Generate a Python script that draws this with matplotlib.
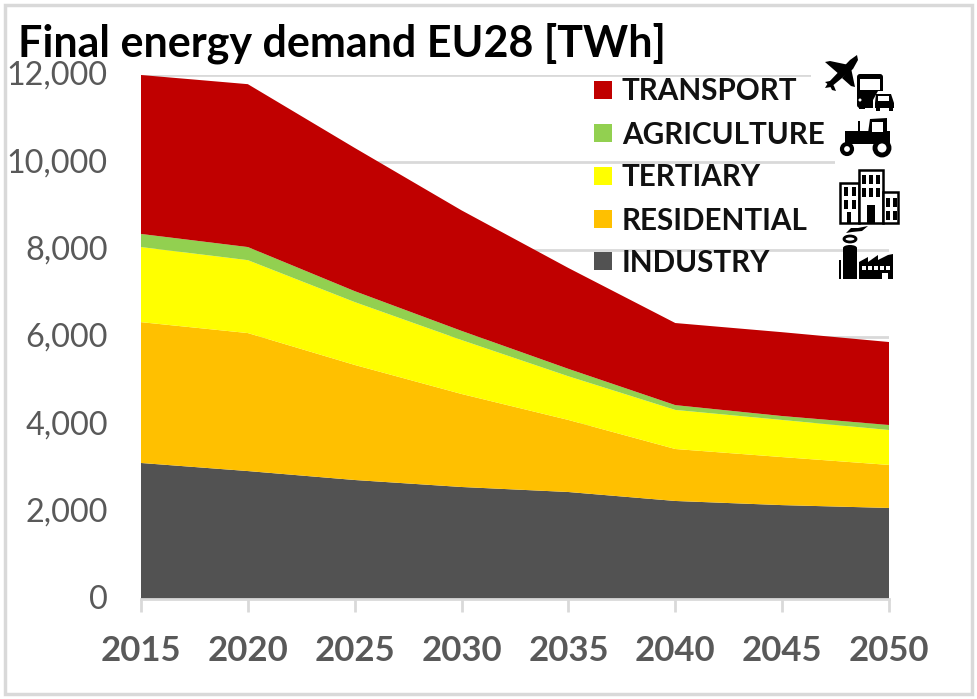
import matplotlib
matplotlib.use("Agg")
import matplotlib.pyplot as plt
from matplotlib.patches import Rectangle, Polygon, Circle, Ellipse, FancyBboxPatch
from matplotlib.ticker import FuncFormatter
from matplotlib.transforms import ScaledTranslation

plt.rcParams["font.family"] = ["Lato", "DejaVu Sans"]

W, H = 977, 699

years = [2015, 2020, 2025, 2030, 2035, 2040, 2045, 2050]
tick_values = [0, 2000, 4000, 6000, 8000, 10000, 12000]

# band sizes in TWh, bottom to top
industry = [3115, 2930, 2725, 2565, 2450, 2245, 2150, 2085]
residential = [3225, 3160, 2635, 2130, 1650, 1190, 1100, 985]
tertiary = [1720, 1670, 1440, 1235, 1000, 895, 850, 800]
agriculture = [300, 300, 250, 210, 170, 110, 90, 115]
transport = [3640, 3730, 3280, 2760, 2310, 1880, 1920, 1900]

names = ["TRANSPORT", "AGRICULTURE", "TERTIARY", "RESIDENTIAL", "INDUSTRY"]
colors = ["#C00000", "#92D050", "#FFFF00", "#FFC000", "#525252"]

GRID = "#D9D9D9"
TEXT = "#595959"

fig = plt.figure(figsize=(W / 100, H / 100), dpi=100)

# chart axes placed by pixels
ax = fig.add_axes([141 / W, 1 - 599 / H, (889 - 141) / W, (599 - 75) / H])
ax.stackplot(years, industry, residential, tertiary, agriculture, transport,
             colors=colors[::-1], linewidth=0, zorder=2)
ax.set_xlim(2015, 2050)
ax.set_ylim(0, 12000)
ax.set_xticks(years)
ax.set_yticks(tick_values)
ax.yaxis.set_major_formatter(FuncFormatter(lambda v, _: f"{int(v):,}"))
ax.grid(axis="y", color=GRID, linewidth=2, zorder=1)
ax.set_axisbelow(True)
for side in ["top", "right", "left"]:
    ax.spines[side].set_visible(False)
ax.spines["bottom"].set_color(GRID)
ax.spines["bottom"].set_linewidth(2)
ax.tick_params(axis="y", length=0, pad=24, labelsize=23.3, labelcolor=TEXT)
ax.tick_params(axis="x", length=9, width=2, color=GRID, pad=17, labelsize=25,
               labelcolor=TEXT)
for lab in ax.get_xticklabels():
    lab.set_fontweight("bold")
up = ScaledTranslation(0, 2 / 100, fig.dpi_scale_trans)
for lab in ax.get_yticklabels():
    lab.set_transform(lab.get_transform() + up)

# overlay in image pixels for frame, title, legend and icons
ov = fig.add_axes([0, 0, 1, 1], facecolor="none")
ov.set_xlim(0, W)
ov.set_ylim(H, 0)
ov.axis("off")

ov.add_patch(Rectangle((5, 5), 967, 689, fill=False, ec=GRID, lw=2.5))
ov.text(18, 43, "Final energy demand EU28 [TWh]", fontsize=31, fontweight="bold",
        color="black", va="center", ha="left")

# legend
legend_y = [90, 133, 176, 219, 261]
for name, color, y in zip(names, colors, legend_y):
    ov.add_patch(Rectangle((594, y - 9), 18, 18, fc=color, ec="none"))
    ov.text(622, y + 1.5, name, fontsize=21.3, fontweight="bold", color="#111111",
            va="center", ha="left")

# white backing of the pasted icons
ov.add_patch(Rectangle((811, 45), 58, 57, fc="white", ec="none"))
ov.add_patch(Rectangle((835, 103), 62, 62, fc="white", ec="none"))
ov.add_patch(Rectangle((869, 45), 30, 58, fc="white", ec="none"))


def poly(pts, fc="black"):
    ov.add_patch(Polygon(pts, closed=True, fc=fc, ec="none"))


def box(x, y, w, h, fc="black"):
    ov.add_patch(Rectangle((x, y), w, h, fc=fc, ec="none"))


# plane
poly([(857, 55), (850, 60), (828, 83), (825, 88), (831, 87), (853, 69), (858, 60)])
poly([(825, 62), (830, 61), (849, 65), (840, 75)])
poly([(851, 68), (842, 78), (851, 86), (855, 87)])
poly([(825, 82), (830, 81), (834, 86), (836, 91), (832, 90), (830, 86)])

# bus and car
ov.add_patch(FancyBboxPatch((860, 77), 20, 28, boxstyle="round,pad=3", fc="black", ec="none"))
box(860, 79, 20, 11, "white")
box(859, 106, 6, 3)
ov.add_patch(Circle((860, 100), 1.5, fc="white", ec="none"))
poly([(873, 110), (873, 100), (878, 91), (892, 91), (896, 100), (896, 111)], "white")
poly([(876, 94), (891, 94), (894, 103), (894, 108), (875, 108), (875, 103)])
box(878, 96, 11, 5, "white")
box(876, 108, 4, 3)
box(889, 108, 4, 3)

# tractor
box(845, 131, 45, 13)
box(858, 121, 2, 12)
poly([(868, 133), (870, 119), (887, 118), (887, 133)])
box(872, 122, 11, 10, "white")
ov.add_patch(Circle((847, 149), 5, fc="white", ec="black", lw=3))
ov.add_patch(Circle((882, 148), 7, fc="white", ec="black", lw=3.5))

# tertiary buildings
for x, y, w, h in [(840, 183, 19, 40), (859, 170, 24, 53), (883, 192, 15, 31)]:
    ov.add_patch(Rectangle((x, y), w, h, fc="white", ec="black", lw=1.8))
for x in [862, 869, 876]:
    box(x, 175, 3.5, 9)
    box(x, 188, 3.5, 9)
for x in [844, 852]:
    box(x, 187, 3.5, 9)
    box(x, 200, 3.5, 9)
for x in [883, 890]:
    box(x + 3, 198, 3.5, 9)
    box(x + 3, 211, 3.5, 9)
box(847, 212, 4, 11)
box(867, 205, 8, 18)

# factory
box(843, 248, 14, 31)
ov.add_patch(Ellipse((850, 239), 12, 6, fc="none", ec="black", lw=2))
ov.add_patch(Ellipse((850, 248), 14, 6, fc="black", ec="none"))
box(839, 260, 2, 19)
poly([(846, 233), (851, 228), (858, 228), (868, 226), (862, 231), (852, 232)])
poly([(859, 279), (859, 262), (868, 257), (868, 262), (878, 255), (878, 260),
      (888, 255), (893, 254), (893, 279)])
for x in [862, 868, 874, 880, 886]:
    box(x, 266, 4, 4, "white")
box(882, 273, 6, 6, "white")

fig.savefig("out.png", dpi=100)
